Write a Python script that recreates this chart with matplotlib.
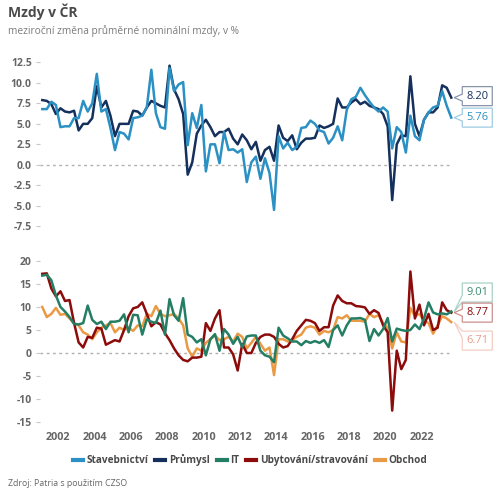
import matplotlib
matplotlib.use("Agg")
import matplotlib.pyplot as plt
import numpy as np
from matplotlib.patches import Polygon
from matplotlib.transforms import IdentityTransform

plt.rcParams['font.family'] = ['Open Sans', 'DejaVu Sans']

# quarterly data 2001Q1 .. 2023Q3, y/y change of average nominal wage (%)
quarters = [f"{y}Q{q}" for y in range(2001, 2024) for q in range(1, 5)][:91]

stavebnictvi = [6.8, 6.8, 7.7, 7.3, 4.6, 4.7, 4.7, 5.7, 5.7, 7.8,
                6.5, 7.5, 11.1, 6.5, 6.8, 4.5, 1.8, 4.0, 3.8, 3.1,
                5.7, 5.8, 6.0, 7.0, 11.6, 6.3, 4.6, 4.4, 11.8, 9.0,
                9.8, 10.1, 2.4, 6.3, 4.5, 7.3, -0.8, 2.5, 2.5, 0.2,
                4.0, 1.8, 1.9, 1.5, 1.9, -2.1, 0.3, 1.0, -1.7, 0.8,
                -1.0, -5.5, 3.5, 2.0, 2.7, 1.8, 2.2, 4.5, 4.6, 5.4,
                5.0, 4.2, 4.0, 2.6, 3.3, 4.7, 3.0, 6.7, 8.0, 8.3,
                9.4, 8.5, 7.7, 7.0, 6.5, 7.0, 6.5, 2.0, 4.6, 4.0,
                1.5, 6.0, 3.5, 3.0, 5.5, 6.4, 7.0, 7.2, 9.0, 7.2, 5.76]

prumysl = [7.9, 7.8, 7.4, 6.2, 6.9, 6.5, 6.4, 6.6, 4.2, 5.0,
           5.0, 5.7, 9.6, 7.0, 7.8, 6.0, 3.5, 5.0, 5.0, 5.0,
           6.6, 6.5, 6.0, 7.0, 7.8, 7.5, 7.2, 7.0, 12.1, 9.2,
           8.0, 6.2, -1.2, 0.3, 3.8, 4.8, 5.5, 4.6, 3.5, 4.0,
           4.0, 4.4, 3.2, 2.5, 3.7, 3.0, 1.9, 2.8, 0.5, 1.8,
           2.2, 0.5, 4.8, 3.3, 2.9, 3.6, 1.9, 2.7, 3.2, 3.2,
           3.3, 4.8, 4.5, 4.7, 5.0, 8.1, 7.0, 7.0, 7.6, 8.0,
           7.4, 7.7, 7.2, 7.0, 6.8, 6.2, 4.7, -4.3, 2.5, 3.6,
           3.5, 10.8, 5.0, 3.5, 5.5, 6.4, 6.4, 7.0, 9.7, 9.4, 8.2]

it = [16.8, 17.0, 15.8, 12.5, 10.0, 9.0, 7.8, 6.3, 6.2, 6.5,
      10.3, 7.2, 6.3, 6.8, 5.2, 6.8, 6.8, 7.0, 8.4, 4.5,
      8.3, 8.2, 4.0, 7.3, 6.8, 6.5, 9.2, 4.0, 11.7, 8.2,
      7.0, 11.9, 4.0, 3.5, 2.3, 3.0, -0.5, 3.0, 4.1, 0.5,
      5.2, 4.0, 2.0, 3.5, 1.3, 3.6, 3.8, 3.8, 0.5, -0.5,
      -0.8, -2.0, 5.5, 3.8, 3.2, 2.5, 2.5, 1.7, 2.6, 2.2,
      2.6, 2.2, 2.8, 1.3, 5.0, 6.0, 3.8, 6.0, 7.5, 7.5,
      7.6, 7.2, 2.6, 5.2, 3.8, 5.2, 7.6, 2.5, 5.3, 5.0,
      4.8, 5.0, 6.2, 5.2, 7.5, 11.0, 8.8, 8.4, 8.6, 8.4, 9.01]

ubytovani = [17.2, 17.3, 14.0, 12.3, 13.4, 11.3, 11.5, 6.5, 2.3, 1.2,
             3.5, 3.3, 5.5, 5.3, 1.8, 2.3, 2.8, 2.5, 5.0, 8.0,
             9.7, 10.0, 11.0, 8.5, 5.8, 6.7, 6.2, 4.3, 2.8, 1.0,
             -0.5, -1.5, -1.8, -1.0, -1.0, -0.8, 6.5, 4.8, 7.5, 9.3,
             1.2, 1.2, -0.3, -3.8, 2.0, 0.0, 0.0, 2.2, 3.5, 4.0,
             4.0, 3.5, 2.0, 1.2, 1.5, 3.0, 4.8, 6.0, 7.2, 7.0,
             6.5, 4.8, 5.6, 5.6, 10.3, 12.5, 11.3, 10.8, 10.8, 10.2,
             10.1, 9.9, 8.5, 9.3, 8.7, 6.0, 4.5, -12.5, 0.5, -3.5,
             -1.5, 17.7, 7.5, 10.5, 6.0, 8.5, 5.0, 5.5, 11.0, 9.3, 8.77]

obchod = [10.0, 7.8, 8.5, 9.8, 8.3, 8.5, 7.5, 6.5, 6.0, 4.5,
          4.0, 3.0, 4.5, 5.5, 6.0, 6.5, 4.5, 5.5, 5.0, 5.5,
          4.8, 6.0, 5.8, 8.5, 8.0, 10.2, 8.5, 8.0, 8.2, 8.5,
          7.5, 6.0, 1.0, -0.8, 1.0, 0.5, 2.2, 3.0, 3.8, 2.8,
          3.0, 3.5, 2.5, 4.2, 3.5, 1.0, 2.2, 3.5, 2.0, 0.5,
          1.2, -4.8, 3.0, 3.0, 2.5, 2.8, 3.5, 4.0, 5.5, 5.8,
          5.5, 4.0, 4.8, 4.5, 5.0, 7.8, 7.5, 8.2, 7.0, 7.0,
          7.0, 6.8, 8.5, 7.8, 8.2, 6.5, 5.5, 1.0, 4.5, 2.5,
          2.3, 9.8, 8.0, 8.5, 7.0, 6.5, 4.2, 6.0, 8.0, 7.5, 6.71]

top_ticks = [12.5, 10.0, 7.5, 5.0, 2.5, 0.0, -2.5, -5.0, -7.5]
bottom_ticks = [20, 15, 10, 5, 0, -5, -10, -15]
year_ticks = list(range(2002, 2024, 2))

# mid-quarter positions in fractional years
x = np.array([int(q[:4]) + (int(q[-1]) - 1) * 0.25 + 0.125 for q in quarters])

c_stav = '#2b90c3'
c_prum = '#15305c'
c_it = '#247e63'
c_uby = '#8c0b0b'
c_obch = '#ea9a45'
label_grey = '#666666'

fig = plt.figure(figsize=(5, 5), dpi=100)
ax1 = fig.add_axes([0.08, 0.531, 0.83, 0.359])
ax2 = fig.add_axes([0.08, 0.142, 0.83, 0.350])

for ax in (ax1, ax2):
    ax.set_xlim(2001.0, 2023.83)
    for s in ax.spines.values():
        s.set_visible(False)
    ax.tick_params(axis='y', length=3, width=0.8, color='#c8c8c8', pad=3,
                   labelsize=7.5, labelcolor=label_grey)
    ax.hlines(0, 2001.0, x[-1], colors='#b0b0b0', linewidth=1,
              linestyles=(0, (2, 2.5)), zorder=1)

ax1.set_ylim(-8.5, 13.4)
ax1.set_yticks(top_ticks)
ax1.set_yticklabels([f"{v:.1f}" for v in top_ticks], fontweight='bold')
ax1.set_xticks([])

ax2.set_ylim(-16.5, 21.5)
ax2.set_yticks(bottom_ticks)
ax2.set_yticklabels([str(v) for v in bottom_ticks], fontweight='bold')
ax2.set_xticks(year_ticks)
ax2.set_xticklabels([str(v) for v in year_ticks], fontweight='bold')
ax2.tick_params(axis='x', length=0, pad=2, labelsize=7.8, labelcolor=label_grey)

lw = 1.8
l_stav, = ax1.plot(x, stavebnictvi, color=c_stav, lw=lw, label='Stavebnictví', zorder=3)
l_prum, = ax1.plot(x, prumysl, color=c_prum, lw=lw, label='Průmysl', zorder=2)
l_obch, = ax2.plot(x, obchod, color=c_obch, lw=lw, label='Obchod', zorder=2)
l_uby, = ax2.plot(x, ubytovani, color=c_uby, lw=lw, label='Ubytování/stravování', zorder=3)
l_it, = ax2.plot(x, it, color=c_it, lw=lw, label='IT', zorder=4)


def callout(ax, xv, yv, text, tcolor, ecolor, dy=0):
    # Power BI style data label box with a pointer to the last point
    px, py = ax.transData.transform((xv, yv))
    tipx = px + 3
    left = tipx + 8
    right = left + 30
    cy = py + dy
    top, bot = cy + 9.5, cy - 9.5
    nc = min(max(py, bot + 3.5), top - 3.5)
    verts = [(left, top), (right, top), (right, bot), (left, bot),
             (left, nc - 3.5), (tipx, py), (left, nc + 3.5)]
    fig.add_artist(Polygon(verts, closed=True, facecolor='white', edgecolor=ecolor,
                           lw=0.9, transform=IdentityTransform(), zorder=5))
    fig.text((left + right) / 2, cy, text, transform=IdentityTransform(),
             ha='center', va='center', color=tcolor, fontsize=8, zorder=6)


callout(ax1, x[-1], prumysl[-1], f"{prumysl[-1]:.2f}", c_prum, '#8a95aa', dy=1.5)
callout(ax1, x[-1], stavebnictvi[-1], f"{stavebnictvi[-1]:.2f}", c_stav, '#9fcbe3', dy=0)
callout(ax2, x[-1], it[-1], f"{it[-1]:.2f}", '#3b8a70', '#a8d2c4', dy=19)
callout(ax2, x[-1], ubytovani[-1], f"{ubytovani[-1]:.2f}", c_uby, '#cf8f8f', dy=0)
callout(ax2, x[-1], obchod[-1], f"{obchod[-1]:.2f}", '#e89c8c', '#f3cdc5', dy=-18.5)

leg = fig.legend(handles=[l_stav, l_prum, l_it, l_uby, l_obch], loc='center',
                 bbox_to_anchor=(0.5, 0.08), ncol=5, frameon=False,
                 handlelength=1.0, handletextpad=0.35, columnspacing=0.7,
                 prop={'weight': 'bold', 'size': 7.2})
for t in leg.get_texts():
    t.set_color('#4a4a4a')
for h in leg.legend_handles:
    h.set_linewidth(3)

fig.text(0.016, 1 - 12 / 500, 'Mzdy v ČR', fontsize=10, fontweight='bold',
         color='#4a4a4a', va='center')
fig.text(0.016, 1 - 31 / 500, 'meziroční změna průměrné nominální mzdy, v %',
         fontsize=7.3, color='#7a7a7a', va='center')
fig.text(0.016, 1 - 483 / 500, 'Zdroj: Patria s použitím CZSO', fontsize=6.3,
         color='#666666', va='center')

fig.savefig('out.png', dpi=100)
